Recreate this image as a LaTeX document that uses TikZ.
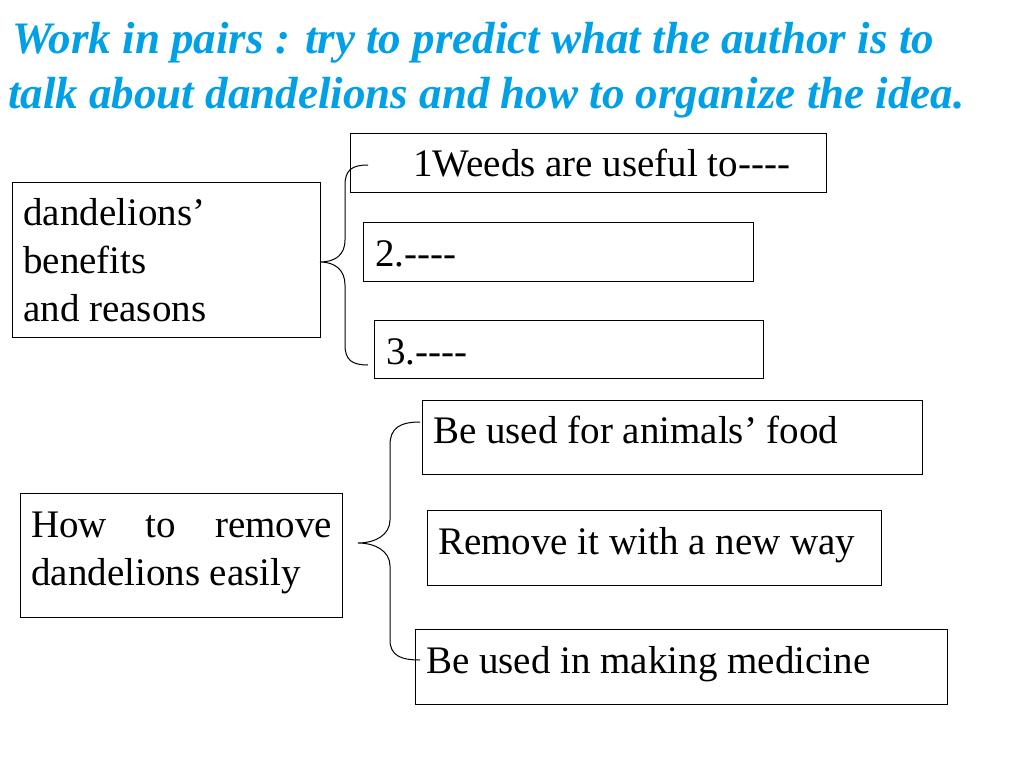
\documentclass[tikz,border=0pt]{standalone}
\usepackage{fontspec}
\setmainfont[Ligatures=NoCommon]{Liberation Serif}
\definecolor{ttl}{RGB}{0,160,230}
\begin{document}
\begin{tikzpicture}[x=1pt,y=-1pt,
  box/.style={draw,line width=1pt,anchor=north west,inner sep=0pt},
  txt/.style={anchor=base west,inner sep=0pt,font=\fontsize{39}{48}\selectfont},
  brace/.style={line width=1pt}]
\useasboundingbox (0,0) rectangle (1024,768);
\node[anchor=base west,inner sep=0pt,text=ttl,font=\fontsize{45}{54}\bfseries\itshape\selectfont] (t1) at (12,54) {Work in pairs : try to predict what the author is to};
\node[anchor=base west,inner sep=0pt,text=ttl,font=\fontsize{45}{54}\bfseries\itshape\selectfont] (t2) at (8,108) {talk about dandelions and how to organize the idea.};
\node[box,minimum width=476pt,minimum height=59pt] (b1) at (350,133) {};
\node[txt] (b1t) at (413,176) {1Weeds are useful to{-}{-}{-}{-}};
\node[box,minimum width=390pt,minimum height=59pt] (b2) at (363,222) {};
\node[txt] (b2t) at (375,266) {2.{-}{-}{-}{-}};
\node[box,minimum width=389pt,minimum height=58pt] (b3) at (374,320) {};
\node[txt] (b3t) at (386,364) {3.{-}{-}{-}{-}};
\node[box,minimum width=308pt,minimum height=155pt] (l1) at (12,182) {};
\node[txt] (l1a) at (23,225) {dandelions'};
\node[txt] (l1b) at (23,273) {benefits};
\node[txt] (l1c) at (23,321) {and reasons};
\node[box,minimum width=500pt,minimum height=74pt] (c1) at (422,400) {};
\node[txt] (c1t) at (433,443) {Be used for animals' food};
\node[box,minimum width=454pt,minimum height=75pt] (c2) at (427,510) {};
\node[txt] (c2t) at (438,554) {Remove it with a new way};
\node[box,minimum width=532pt,minimum height=75pt] (c3) at (415,629) {};
\node[txt] (c3t) at (426,673) {Be used in making medicine};
\node[box,minimum width=322pt,minimum height=124pt] (l2) at (20,493) {};
\node[txt] (l2a) at (31,537) {\makebox[301pt][s]{How to remove}};
\node[txt] (l2b) at (31,585) {dandelions easily};
\draw[brace] (368,165) .. controls (352,165) and (345,170) .. (345,185) -- (345,240) .. controls (345,255) and (335,262) .. (320,262) .. controls (335,262) and (345,270) .. (345,285) -- (345,345) .. controls (345,360) and (352,365) .. (368,365);
\draw[brace] (420,422) .. controls (400,422) and (390,428) .. (390,445) -- (390,520) .. controls (390,535) and (375,543) .. (358,543) .. controls (375,543) and (390,551) .. (390,566) -- (390,640) .. controls (390,655) and (400,660) .. (420,660);
\end{tikzpicture}
\end{document}
